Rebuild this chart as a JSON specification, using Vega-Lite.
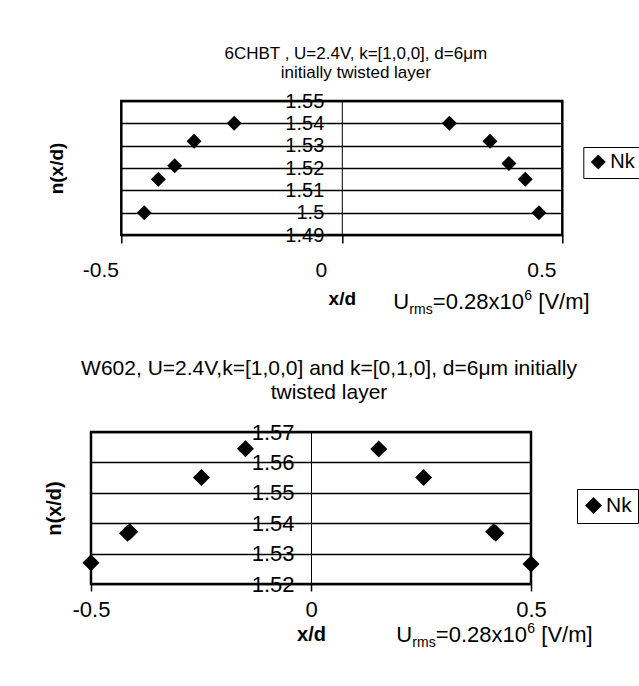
{
  "$schema": "https://vega.github.io/schema/vega-lite/v6.json",
  "background": "white",
  "padding": {"left": 43, "top": 43, "right": 0, "bottom": 0},
  "config": {
    "font": "Liberation Sans",
    "view": {"stroke": "black", "strokeWidth": 2.5},
    "text": {"font": "Liberation Sans", "color": "black"}
  },
  "datasets": {
    "top": [
      {"x": -0.448, "n": 1.5, "series": "Nk"},
      {"x": -0.416, "n": 1.515, "series": "Nk"},
      {"x": -0.379, "n": 1.521, "series": "Nk"},
      {"x": -0.335, "n": 1.532, "series": "Nk"},
      {"x": -0.244, "n": 1.54, "series": "Nk"},
      {"x": 0.244, "n": 1.54, "series": "Nk"},
      {"x": 0.336, "n": 1.532, "series": "Nk"},
      {"x": 0.379, "n": 1.522, "series": "Nk"},
      {"x": 0.416, "n": 1.515, "series": "Nk"},
      {"x": 0.447, "n": 1.5, "series": "Nk"}
    ],
    "bottom": [
      {"x": -0.5, "n": 1.527, "series": "Nk"},
      {"x": -0.417, "n": 1.5367, "series": "Nk"},
      {"x": -0.412, "n": 1.5372, "series": "Nk"},
      {"x": -0.249, "n": 1.555, "series": "Nk"},
      {"x": -0.149, "n": 1.5645, "series": "Nk"},
      {"x": 0.154, "n": 1.5644, "series": "Nk"},
      {"x": 0.256, "n": 1.555, "series": "Nk"},
      {"x": 0.415, "n": 1.5372, "series": "Nk"},
      {"x": 0.42, "n": 1.5367, "series": "Nk"},
      {"x": 0.5, "n": 1.5266, "series": "Nk"}
    ],
    "note": [{"label": "Urms"}]
  },
  "spacing": 37,
  "resolve": {
    "scale": {"x": "independent", "y": "independent", "shape": "independent"},
    "legend": {"shape": "independent"}
  },
  "vconcat": [
    {
      "hconcat": [
        {
          "width": 1, "height": 1,
          "data": {"name": "note"},
          "mark": {"type": "text", "text": " "},
          "encoding": {},
          "view": {"stroke": null}
        },
        {
          "width": 441,
          "height": 134,
          "title": {
            "text": ["6CHBT , U=2.4V, k=[1,0,0], d=6μm", "initially twisted layer"],
            "fontSize": 17, "fontWeight": "normal", "font": "Liberation Sans", "color": "black",
            "lineHeight": 19, "anchor": "middle", "dx": 14, "offset": -8, "baseline": "bottom"
          },
          "layer": [
            {
              "data": {"name": "top"},
              "mark": {"type": "point", "shape": "diamond", "filled": true, "color": "black", "size": 225, "opacity": 1},
              "encoding": {
                "x": {
                  "field": "x", "type": "quantitative",
                  "scale": {"domain": [-0.5, 0.5], "nice": false, "zero": false},
                  "axis": {
                    "values": [-0.5, 0, 0.5], "labelExpr": "'' + datum.value", "tickCount": 20,
                    "domain": false, "grid": false, "ticks": true, "tickColor": "black", "tickSize": 8, "tickWidth": 1.5,
                    "labelPadding": 16, "labelAlign": "center", "labelOffset": -21, "labelFontSize": 21,
                    "labelColor": "black", "labelFlush": false, "labelOverlap": false,
                    "title": "x/d", "titleY": 69, "titleBaseline": "alphabetic", "titleFontSize": 19,
                    "titleFontWeight": "bold", "titleColor": "black"
                  }
                },
                "y": {
                  "field": "n", "type": "quantitative",
                  "scale": {"domain": [1.49, 1.55], "nice": false, "zero": false},
                  "axis": {
                    "values": [1.49, 1.5, 1.51, 1.52, 1.53, 1.54, 1.55], "labelExpr": "'' + datum.value", "tickCount": 20,
                    "offset": -220.5, "ticks": false, "domain": true, "domainColor": "black", "domainWidth": 1,
                    "grid": true, "gridColor": "black", "gridWidth": 1.6, "gridOpacity": 1,
                    "labelPadding": 18, "labelFontSize": 20, "labelColor": "black", "labelOverlap": false,
                    "title": "n(x/d)", "titleX": -279.7, "titleY": 67, "titleAngle": 270, "titleAlign": "center",
                    "titleBaseline": "alphabetic", "titleFontSize": 19, "titleFontWeight": "bold", "titleColor": "black"
                  }
                },
                "shape": {
                  "field": "series", "type": "nominal", "scale": {"range": ["diamond"]},
                  "legend": {
                    "title": null, "orient": "none", "legendX": 462, "legendY": 46,
                    "strokeColor": "black", "padding": 5, "fillColor": "white",
                    "symbolType": "diamond", "symbolSize": 225, "symbolFillColor": "black", "symbolStrokeColor": "black",
                    "labelFontSize": 20, "labelColor": "black", "labelOffset": 2, "cornerRadius": 0
                  }
                }
              }
            },
            {
              "data": {"name": "note"},
              "mark": {"type": "text", "text": "U", "fontSize": 22, "align": "left", "baseline": "alphabetic", "color": "black"},
              "encoding": {"x": {"datum": 0.1168, "type": "quantitative"}, "y": {"datum": 1.45687, "type": "quantitative"}}
            },
            {
              "data": {"name": "note"},
              "mark": {"type": "text", "text": "rms", "fontSize": 14, "align": "left", "baseline": "alphabetic", "dx": 16, "dy": 5, "color": "black"},
              "encoding": {"x": {"datum": 0.1168, "type": "quantitative"}, "y": {"datum": 1.45687, "type": "quantitative"}}
            },
            {
              "data": {"name": "note"},
              "mark": {"type": "text", "text": "=0.28x10", "fontSize": 22, "align": "left", "baseline": "alphabetic", "dx": 39.5, "color": "black"},
              "encoding": {"x": {"datum": 0.1168, "type": "quantitative"}, "y": {"datum": 1.45687, "type": "quantitative"}}
            },
            {
              "data": {"name": "note"},
              "mark": {"type": "text", "text": "6", "fontSize": 14, "align": "left", "baseline": "alphabetic", "dx": 131, "dy": -9, "color": "black"},
              "encoding": {"x": {"datum": 0.1168, "type": "quantitative"}, "y": {"datum": 1.45687, "type": "quantitative"}}
            },
            {
              "data": {"name": "note"},
              "mark": {"type": "text", "text": "[V/m]", "fontSize": 22, "align": "left", "baseline": "alphabetic", "dx": 145, "color": "black"},
              "encoding": {"x": {"datum": 0.1168, "type": "quantitative"}, "y": {"datum": 1.45687, "type": "quantitative"}}
            }
          ]
        }
      ],
      "spacing": 29.3,
      "bounds": "flush",
      "resolve": {
        "scale": {"x": "independent", "y": "independent", "shape": "independent"},
        "legend": {"shape": "independent"}
      }
    },
    {
      "width": 440,
      "height": 152,
      "title": {
        "text": ["W602, U=2.4V,k=[1,0,0] and k=[0,1,0], d=6μm initially", "twisted layer"],
        "fontSize": 21, "fontWeight": "normal", "font": "Liberation Sans", "color": "black",
        "lineHeight": 24, "anchor": "middle", "dx": 18, "offset": -3, "baseline": "bottom"
      },
      "layer": [
        {
          "data": {"name": "bottom"},
          "mark": {"type": "point", "shape": "diamond", "filled": true, "color": "black", "size": 289, "opacity": 1},
          "encoding": {
            "x": {
              "field": "x", "type": "quantitative",
              "scale": {"domain": [-0.5, 0.5], "nice": false, "zero": false},
              "axis": {
                "values": [-0.5, 0, 0.5], "labelExpr": "'' + datum.value", "tickCount": 20,
                "domain": false, "grid": false, "ticks": true, "tickColor": "black", "tickSize": 7, "tickWidth": 1.5,
                "labelPadding": 8, "labelAlign": "center", "labelFontSize": 22,
                "labelColor": "black", "labelFlush": false, "labelOverlap": false,
                "title": "x/d", "titleY": 56, "titleBaseline": "alphabetic", "titleFontSize": 20,
                "titleFontWeight": "bold", "titleColor": "black"
              }
            },
            "y": {
              "field": "n", "type": "quantitative",
              "scale": {"domain": [1.52, 1.57], "nice": false, "zero": false},
              "axis": {
                "values": [1.52, 1.53, 1.54, 1.55, 1.56, 1.57], "labelExpr": "'' + datum.value", "tickCount": 20,
                "offset": -220, "ticks": false, "domain": true, "domainColor": "black", "domainWidth": 1,
                "grid": true, "gridColor": "black", "gridWidth": 1.6, "gridOpacity": 1,
                "labelPadding": 17, "labelFontSize": 22, "labelColor": "black", "labelOverlap": false,
                "title": "n(x/d)", "titleX": -250.5, "titleY": 76, "titleAngle": 270, "titleAlign": "center",
                "titleBaseline": "alphabetic", "titleFontSize": 20, "titleFontWeight": "bold", "titleColor": "black"
              }
            },
            "shape": {
              "field": "series", "type": "nominal", "scale": {"range": ["diamond"]},
              "legend": {
                "title": null, "orient": "none", "legendX": 486, "legendY": 57,
                "strokeColor": "black", "padding": 6, "fillColor": "white",
                "symbolType": "diamond", "symbolSize": 289, "symbolFillColor": "black", "symbolStrokeColor": "black",
                "labelFontSize": 21, "labelColor": "black", "labelOffset": 2, "cornerRadius": 0
              }
            }
          }
        },
        {
          "data": {"name": "note"},
          "mark": {"type": "text", "text": "U", "fontSize": 22, "align": "left", "baseline": "alphabetic", "color": "black"},
          "encoding": {"x": {"datum": 0.1939, "type": "quantitative"}, "y": {"datum": 1.50082, "type": "quantitative"}}
        },
        {
          "data": {"name": "note"},
          "mark": {"type": "text", "text": "rms", "fontSize": 14, "align": "left", "baseline": "alphabetic", "dx": 16, "dy": 5, "color": "black"},
          "encoding": {"x": {"datum": 0.1939, "type": "quantitative"}, "y": {"datum": 1.50082, "type": "quantitative"}}
        },
        {
          "data": {"name": "note"},
          "mark": {"type": "text", "text": "=0.28x10", "fontSize": 22, "align": "left", "baseline": "alphabetic", "dx": 39.5, "color": "black"},
          "encoding": {"x": {"datum": 0.1939, "type": "quantitative"}, "y": {"datum": 1.50082, "type": "quantitative"}}
        },
        {
          "data": {"name": "note"},
          "mark": {"type": "text", "text": "6", "fontSize": 14, "align": "left", "baseline": "alphabetic", "dx": 131, "dy": -9, "color": "black"},
          "encoding": {"x": {"datum": 0.1939, "type": "quantitative"}, "y": {"datum": 1.50082, "type": "quantitative"}}
        },
        {
          "data": {"name": "note"},
          "mark": {"type": "text", "text": "[V/m]", "fontSize": 22, "align": "left", "baseline": "alphabetic", "dx": 145, "color": "black"},
          "encoding": {"x": {"datum": 0.1939, "type": "quantitative"}, "y": {"datum": 1.50082, "type": "quantitative"}}
        }
      ]
    }
  ]
}
